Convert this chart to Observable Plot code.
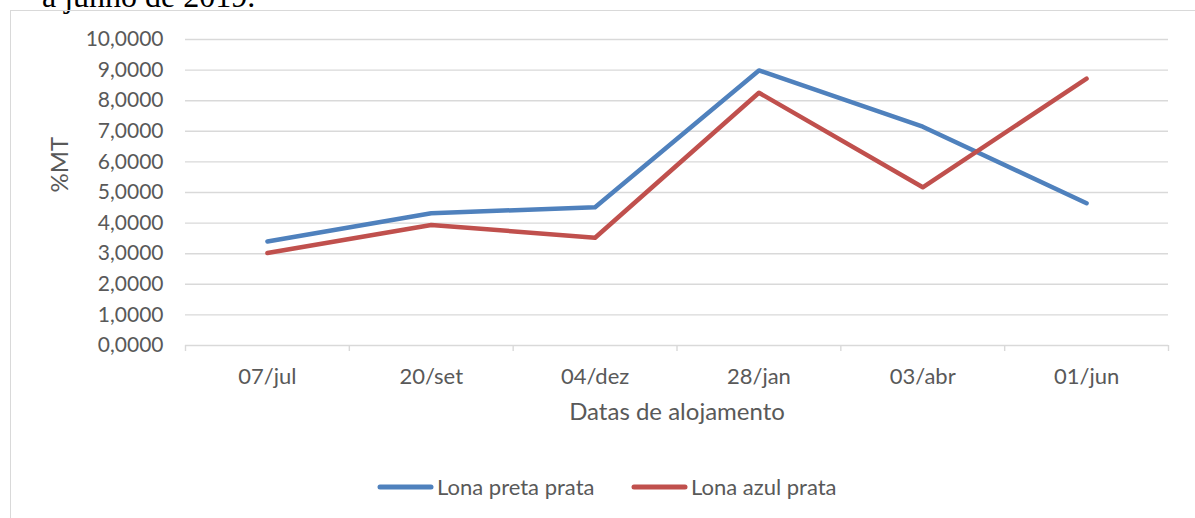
<!DOCTYPE html>
<html>
<head>
<meta charset="utf-8">
<script src="https://cdn.jsdelivr.net/npm/d3@7"></script>
<script src="https://cdn.jsdelivr.net/npm/@observablehq/plot@0.6"></script>
<style>
  html, body { margin: 0; padding: 0; background: #fff; }
  body { width: 1195px; height: 518px; overflow: hidden; position: relative; font-family: Lato, "Open Sans", sans-serif; }
  #caption { position: absolute; left: 42px; top: -20px; font-family: "Liberation Serif", "DejaVu Serif", serif; font-size: 32px; line-height: 32px; color: #000; white-space: nowrap; }
  #box { position: absolute; left: 10px; top: 10px; width: 1200px; height: 520px; border: 1px solid #d9d9d9; box-sizing: border-box; }
  #chart { position: absolute; left: 0; top: 0; }
  .leg { position: absolute; top: 473px; display: flex; align-items: center; font-size: 22px; color: #595959; white-space: nowrap; }
  .leg svg { display: block; margin-right: 3px; }
</style>
</head>
<body>
<div id="caption">a junho de 2019.</div>
<div id="box"></div>
<div id="chart"></div>
<div class="leg" id="leg1" style="left:377px"></div>
<div class="leg" id="leg2" style="left:631px"></div>
<script>
const categories = ["07/jul", "20/set", "04/dez", "28/jan", "03/abr", "01/jun"];
const lonaPretaPrata = [3.40, 4.32, 4.52, 8.99, 7.15, 4.65];
const lonaAzulPrata = [3.02, 3.94, 3.52, 8.26, 5.17, 8.72];
const seriesNames = ["Lona preta prata", "Lona azul prata"];
const seriesColors = ["#4f81bd", "#c0504d"];
const yTicks = [0, 1, 2, 3, 4, 5, 6, 7, 8, 9, 10];

const rows = [];
[lonaPretaPrata, lonaAzulPrata].forEach((vals, s) => {
  vals.forEach((v, i) => rows.push({ series: seriesNames[s], pos: i + 0.5, value: v }));
});

const fmt = d => d3.format(".4f")(d).replace(".", ",");
const textColor = "#595959";
const gridColor = "#d9d9d9";

const chart = Plot.plot({
  width: 1195,
  height: 440,
  marginLeft: 185,
  marginRight: 27,
  marginTop: 39,
  marginBottom: 95,
  style: { background: "transparent", fontFamily: "Lato, 'Open Sans', sans-serif", fontSize: "21px", color: textColor, overflow: "visible" },
  x: { domain: [0, categories.length], axis: null },
  y: { domain: [0, 10], axis: null },
  color: { domain: seriesNames, range: seriesColors },
  marks: [
    Plot.gridY(yTicks, { stroke: gridColor, strokeOpacity: 1, strokeWidth: 1.4 }),
    Plot.axisY(yTicks, { tickSize: 0, tickPadding: 22, tickFormat: fmt, fill: textColor, fontSize: 21, label: null }),
    Plot.axisX(d3.range(0, categories.length + 1), { tickSize: 6, stroke: gridColor, strokeOpacity: 1, strokeWidth: 1.4, tickFormat: () => "", label: null }),
    Plot.axisX(d3.range(0.5, categories.length), { tickSize: 0, tickPadding: 23, tickFormat: p => categories[Math.floor(p)], fill: textColor, fontSize: 22, label: null }),
    Plot.text(["Datas de alojamento"], { frameAnchor: "bottom", dy: 74, fill: textColor, fontSize: 24 }),
    Plot.text(["%MT"], { frameAnchor: "left", dx: -125, rotate: -90, fill: textColor, fontSize: 24 }),
    Plot.line(rows, { x: "pos", y: "value", z: "series", stroke: "series", strokeWidth: 4.5, strokeLinecap: "round", strokeLinejoin: "round" })
  ]
});
document.getElementById("chart").appendChild(chart);

["leg1", "leg2"].forEach((id, s) => {
  const el = document.getElementById(id);
  el.innerHTML = `<svg width="57" height="8"><line x1="3" y1="4" x2="54" y2="4" stroke="${seriesColors[s]}" stroke-width="5" stroke-linecap="round"/></svg><span>${seriesNames[s]}</span>`;
});
</script>
</body>
</html>
